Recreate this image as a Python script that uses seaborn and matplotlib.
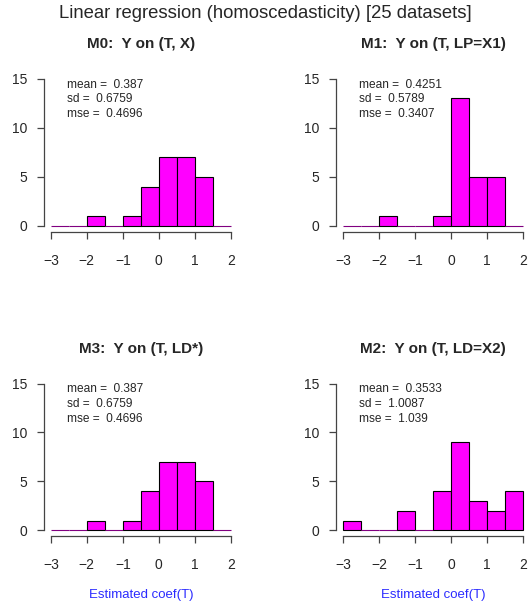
import numpy as np
import pandas as pd
import matplotlib
matplotlib.use("Agg")
import matplotlib.pyplot as plt
import seaborn as sns

# histogram bins of the estimated coefficient (width 0.5 from -3 to 2)
bin_edges = [-3.0, -2.5, -2.0, -1.5, -1.0, -0.5, 0.0, 0.5, 1.0, 1.5, 2.0]

# counts per bin (25 datasets each)
counts_m0 = [0, 0, 1, 0, 1, 4, 7, 7, 5, 0]
counts_m1 = [0, 0, 1, 0, 0, 1, 13, 5, 5, 0]
counts_m3 = [0, 0, 1, 0, 1, 4, 7, 7, 5, 0]
counts_m2 = [1, 0, 0, 2, 0, 4, 9, 3, 2, 4]

titles = ["M0:  Y on (T, X)", "M1:  Y on (T, LP=X1)",
          "M3:  Y on (T, LD*)", "M2:  Y on (T, LD=X2)"]
means = ["0.387", "0.4251", "0.387", "0.3533"]
sds = ["0.6759", "0.5789", "0.6759", "1.0087"]
mses = ["0.4696", "0.3407", "0.4696", "1.039"]

sns.set_style("white")
plt.rcParams["font.family"] = ["Liberation Sans", "DejaVu Sans"]

fig = plt.figure(figsize=(5.30, 6.02), dpi=100)

# axes boxes in figure fractions (left, bottom, width, height)
boxes = [
    (0.0823, 0.6154, 0.3668, 0.2633),
    (0.6340, 0.6154, 0.3668, 0.2633),
    (0.0823, 0.1093, 0.3668, 0.2633),
    (0.6340, 0.1093, 0.3668, 0.2633),
]
all_counts = [counts_m0, counts_m1, counts_m3, counts_m2]
centers = [(a + b) / 2 for a, b in zip(bin_edges[:-1], bin_edges[1:])]

axis_col = "#444444"
for i, box in enumerate(boxes):
    ax = fig.add_axes(box)
    df = pd.DataFrame({"coef": centers, "n": all_counts[i]})
    sns.histplot(data=df, x="coef", weights="n", bins=bin_edges, ax=ax,
                 color="#FF00FF", edgecolor="black", linewidth=0.8, alpha=1)
    # empty bins show up as a thin purple line, like the R output
    for p in ax.patches:
        if p.get_height() == 0:
            p.set_edgecolor("#800080")
    ax.set_xlim(-3.2, 2.2)
    ax.set_ylim(-0.6, 15.6)
    ax.set_xticks([-3, -2, -1, 0, 1, 2])
    ax.set_xticklabels(["\u22123", "\u22122", "\u22121", "0", "1", "2"])
    ax.set_yticks([0, 5, 10, 15])
    for s in ["top", "right"]:
        ax.spines[s].set_visible(False)
    ax.spines["bottom"].set_bounds(-3, 2)
    ax.spines["left"].set_bounds(0, 15)
    for s in ["bottom", "left"]:
        ax.spines[s].set_color(axis_col)
        ax.spines[s].set_linewidth(0.9)
    ax.tick_params(axis="both", length=5, width=0.9, color=axis_col,
                   labelsize=10, direction="out", bottom=True, left=True)
    ax.tick_params(axis="x", pad=11)
    ax.tick_params(axis="y", pad=7)
    ax.set_ylabel("")
    ax.set_xlabel("")
    ax.set_title(titles[i], fontsize=11, fontweight="bold", pad=18)
    lines = [f"mean =  {means[i]}", f"sd =  {sds[i]}", f"mse =  {mses[i]}"]
    for k, t in enumerate(lines):
        ax.text(-2.55, 14.4 - 1.5 * k, t, fontsize=8.6, ha="left", va="center")
    if i >= 2:
        ax.set_xlabel("Estimated coef(T)", color="#2B2BFF", fontsize=9.5,
                      labelpad=12)

fig.text(0.5, 1 - 13 / 602, "Linear regression (homoscedasticity) [25 datasets]",
         ha="center", va="center", fontsize=13.3)

fig.savefig("out.png", dpi=100)
